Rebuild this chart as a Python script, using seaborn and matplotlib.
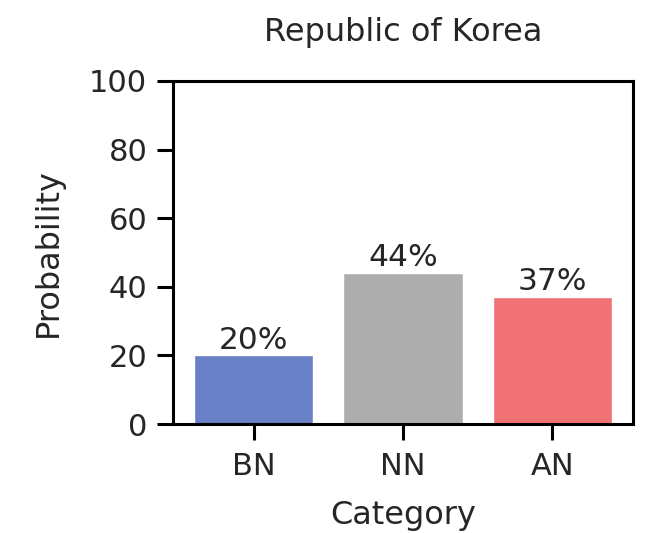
import matplotlib
matplotlib.use("Agg")
import matplotlib.pyplot as plt
import seaborn as sns
import pandas as pd

categories = ["BN", "NN", "AN"]
probabilities = [20, 44, 37]
labels = ["20%", "44%", "37%"]
colors = ["#6780c6", "#adadad", "#f07274"]

sns.set_style("ticks")
plt.rcParams['font.family'] = ['DejaVu Sans']

fig = plt.figure(figsize=(6.57, 5.33), dpi=100)
ax = fig.add_axes([173/657, 109/533, 460/657, 343/533])

df = pd.DataFrame({"Category": categories, "Probability": probabilities})
sns.barplot(data=df, x="Category", y="Probability", hue="Category",
            palette=colors, legend=False, width=0.8, saturation=1, ax=ax)

for i, (v, lab) in enumerate(zip(probabilities, labels)):
    ax.text(i, v + 0.2, lab, ha="center", va="bottom", fontsize=22.5, color="#262626")

ax.set_ylim(0, 100)
ax.set_xlim(-0.54, 2.54)
ax.set_yticks([0, 20, 40, 60, 80, 100])
ax.set_title("Republic of Korea", fontsize=23, pad=29, color="#262626")
ax.set_xlabel("Category", fontsize=23, labelpad=13, color="#262626")
ax.set_ylabel("Probability", fontsize=23, labelpad=18, color="#262626")
ax.tick_params(labelsize=22, width=2.2, length=11.5, colors="black", labelcolor="#262626")
ax.tick_params(axis="y", pad=7)
ax.tick_params(axis="x", pad=9)
for s in ax.spines.values():
    s.set_linewidth(2.2)
    s.set_color("black")
    s.set_visible(True)

fig.savefig("out.png", dpi=100)
